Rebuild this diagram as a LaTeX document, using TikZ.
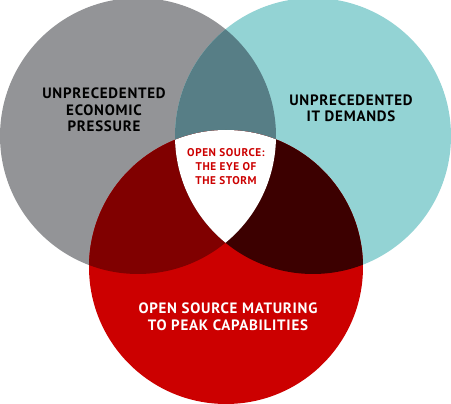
\documentclass[tikz,border=0pt]{standalone}
\usepackage{fontspec}
\newfontfamily\vennfont{PT Sans}[LetterSpace=5]
\definecolor{pressuregray}{HTML}{939497}
\definecolor{demandteal}{HTML}{93D3D4}
\definecolor{sourcered}{HTML}{CC0000}
\definecolor{overlapteal}{HTML}{577E86}
\definecolor{overlapred}{HTML}{800000}
\definecolor{overlapdark}{HTML}{3C0000}
\begin{document}
\begin{tikzpicture}[
			x=1pt,
			y=-1pt,
			label/.style={align=center, font=\vennfont\bfseries\fontsize{15}{16.5}\selectfont},
			eye/.style={align=center, text=sourcered, font=\vennfont\bfseries\fontsize{11.2}{14}\selectfont}
		]
		\useasboundingbox[fill=white] (0,0) rectangle (451,404);

		% ---- circulos --------------------------------------------------
		\coordinate (gc) at (138,136);
		\coordinate (tc) at (313,136);
		\coordinate (rc) at (226,267);
		\fill[pressuregray] (gc) circle (138pt);
		\fill[demandteal] (tc) circle (138pt);
		\fill[sourcered] (rc) circle (137pt);

		% ---- intersecoes -----------------------------------------------
		\begin{scope}
			\clip (gc) circle (138pt);
			\fill[overlapteal] (tc) circle (138pt);
			\fill[overlapred] (rc) circle (137pt);
		\end{scope}
		\begin{scope}
			\clip (tc) circle (138pt);
			\fill[overlapdark] (rc) circle (137pt);
		\end{scope}
		\begin{scope}
			\clip (gc) circle (138pt);
			\clip (tc) circle (138pt);
			\fill[white] (rc) circle (137pt);
		\end{scope}

		% ---- textos ----------------------------------------------------
		\node[label] (pressure) at (104,110) {UNPRECEDENTED\\ECONOMIC\\PRESSURE};
		\node[label] (demands) at (351,108) {UNPRECEDENTED\\IT DEMANDS};
		\node[label, text=white] (maturing) at (228,317) {OPEN SOURCE MATURING\\TO PEAK CAPABILITIES};
		\node[eye] (storm) at (226,167) {OPEN SOURCE:\\THE EYE OF\\THE STORM};
	\end{tikzpicture}
\end{document}
